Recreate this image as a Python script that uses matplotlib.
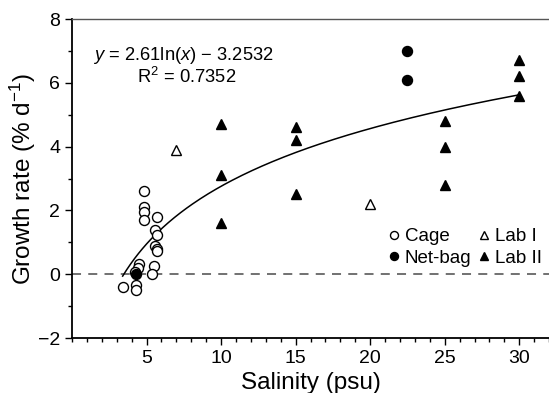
import numpy as np
import matplotlib
matplotlib.use('Agg')
import matplotlib.pyplot as plt
from matplotlib.ticker import MultipleLocator

plt.rcParams['font.family'] = ['Liberation Sans', 'DejaVu Sans']
plt.rcParams['mathtext.fontset'] = 'custom'
plt.rcParams['mathtext.rm'] = 'Liberation Sans'
plt.rcParams['mathtext.it'] = 'Liberation Sans:italic'

# 数据
cage_x = [4.8, 4.8, 4.8, 4.8, 5.7, 5.6, 5.7, 5.6, 5.7, 5.7, 4.5, 4.4, 5.5, 5.4, 4.2, 3.4, 4.3, 4.3]
cage_y = [2.6, 2.1, 1.95, 1.7, 1.8, 1.38, 1.22, 0.88, 0.8, 0.72, 0.31, 0.2, 0.27, 0.0, 0.07, -0.4, -0.35, -0.5]
netbag_x = [4.3, 22.5, 22.5]
netbag_y = [0.0, 7.0, 6.1]
lab1_x = [7, 20]
lab1_y = [3.9, 2.2]
lab2_x = [10, 10, 10, 15, 15, 15, 25, 25, 25, 30, 30, 30]
lab2_y = [4.7, 3.1, 1.6, 4.6, 4.2, 2.5, 4.8, 4.0, 2.8, 6.7, 6.2, 5.6]
xticks = [5, 10, 15, 20, 25, 30]

fit_a, fit_b = 2.61, -3.2532
fit_range = (3.4, 30)

fig = plt.figure(figsize=(5.49, 3.93), dpi=100)
ax = fig.add_axes([0.1311, 0.1399, 0.869, 0.8117])

xf = np.linspace(fit_range[0], fit_range[1], 200)
ax.plot(xf, fit_a * np.log(xf) + fit_b, color='black', lw=1.1, zorder=2)
ax.axhline(0, color='#666666', lw=1.3, ls=(0, (5, 4)), zorder=1)

ms = 7.2
ax.plot(cage_x, cage_y, 'o', mfc='white', mec='black', mew=1.0, ms=ms, ls='none', label='Cage', zorder=3)
ax.plot(netbag_x, netbag_y, 'o', mfc='black', mec='black', ms=ms, ls='none', label='Net-bag', zorder=4)
ax.plot(lab1_x, lab1_y, '^', mfc='white', mec='black', mew=1.0, ms=ms, ls='none', label='Lab I', zorder=3)
ax.plot(lab2_x, lab2_y, '^', mfc='black', mec='black', ms=ms, ls='none', label='Lab II', zorder=3)

ax.set_xlim(0, 32)
ax.set_ylim(-2, 8)
ax.set_xticks(xticks)
ax.xaxis.set_minor_locator(MultipleLocator(1))
ax.yaxis.set_major_locator(MultipleLocator(2))
ax.yaxis.set_minor_locator(MultipleLocator(1))
ax.tick_params(axis='both', which='major', direction='out', length=5, width=1, labelsize=14, pad=3.5)
ax.tick_params(axis='both', which='minor', direction='out', length=3, width=1)

ax.spines['right'].set_visible(False)
ax.spines['top'].set_color('#555555')
ax.spines['top'].set_linewidth(1.0)
ax.spines['left'].set_linewidth(1.3)
ax.spines['bottom'].set_linewidth(1.3)

ax.set_xlabel('Salinity (psu)', fontsize=17.5, labelpad=4)
ax.set_ylabel('Growth rate (% d$^{\u22121}$)', fontsize=17.5, labelpad=0)

ax.text(1.4, 6.87, '$y$ = 2.61ln($x$) \u2212 3.2532', fontsize=13.2, va='center', ha='left')
ax.text(7.7, 6.18, 'R$^2$ = 0.7352', fontsize=13.2, va='center', ha='center')

ax.legend(loc='upper left', bbox_to_anchor=(0.66, 0.345), ncol=2, frameon=False,
          fontsize=13.5, handletextpad=0.15, columnspacing=0.3, labelspacing=0.25,
          markerscale=0.8, handlelength=0.8, borderpad=0, borderaxespad=0)

fig.savefig('out.png', dpi=100)
